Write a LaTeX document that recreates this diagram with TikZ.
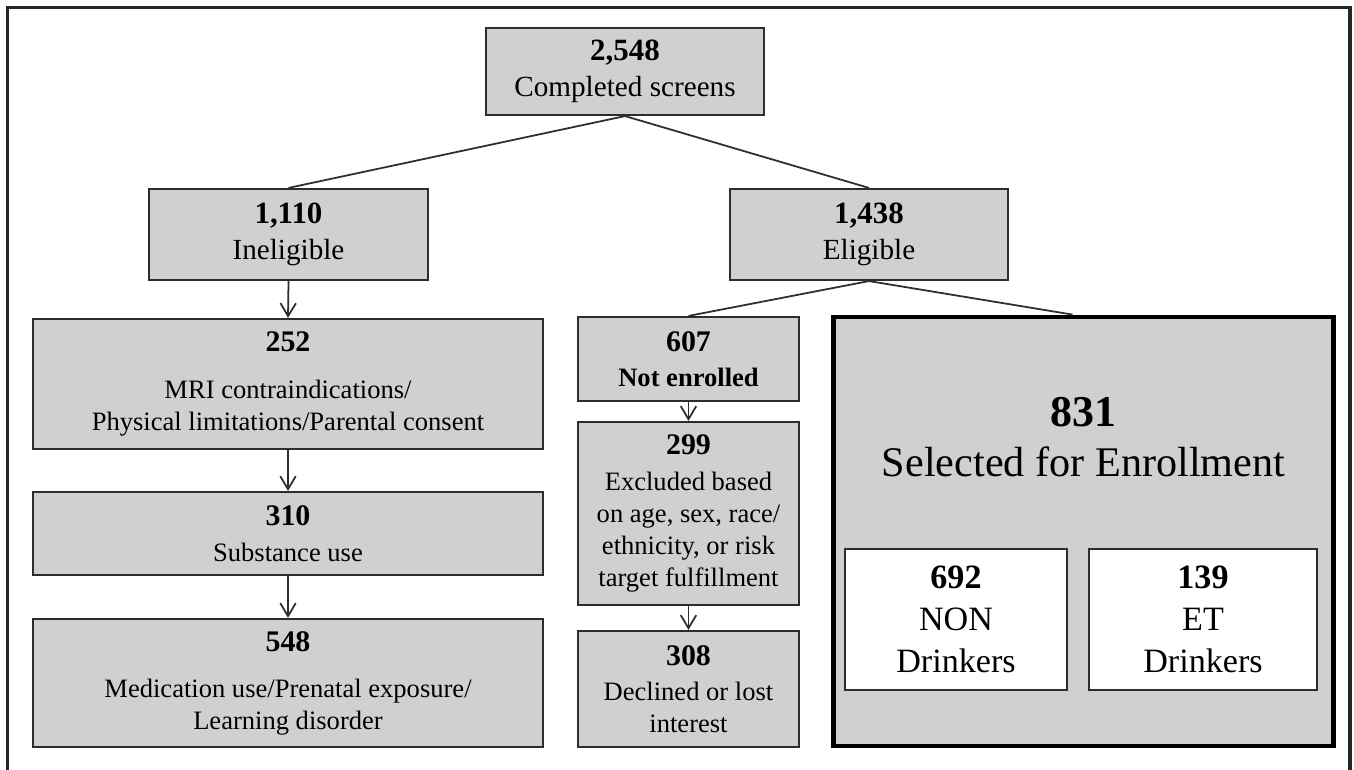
\documentclass[tikz,border=0pt]{standalone}
\usepackage{fontspec}
\setmainfont{Liberation Serif}
\usetikzlibrary{calc,arrows.meta}

\definecolor{boxgray}{RGB}{208,208,208}
\definecolor{linegray}{RGB}{45,45,45}
\newcommand{\bnum}[2][8.5]{{\fontsize{#1}{9}\selectfont\bfseries #2}}

\begin{document}
\begin{tikzpicture}[x=0.01cm,y=-0.01cm,
    box/.style={rectangle, draw=linegray, line width=0.6pt, fill=boxgray, align=center, inner sep=0pt, font=\fontsize{7.55}{9.1}\selectfont},
    toprow/.style={font=\fontsize{8.3}{10.2}\selectfont},
    subbox/.style={box, fill=white, font=\fontsize{9.7}{11.9}\selectfont},
    conn/.style={draw=linegray, line width=0.5pt},
    arr/.style={conn, -{Straight Barb[length=3.7pt,width=4.4pt]}}]
        \useasboundingbox (0,0) rectangle (1354,770);
        \draw[line width=1pt, draw=black!85] (7.5,770) -- (7.5,7.5) -- (1350,7.5) -- (1350,770);

        \node (scr) [box, toprow, minimum width=2.78cm, minimum height=0.87cm] at (625,71.5) {\bnum[8.8]{2,548}\\Completed screens};
        \node (inel) [box, toprow, minimum width=2.79cm, minimum height=0.91cm] at (288.5,234.5) {\bnum[8.8]{1,110}\\Ineligible};
        \node (elig) [box, toprow, minimum width=2.78cm, minimum height=0.91cm] at (869,234.5) {\bnum[8.8]{1,438}\\Eligible};

        \node (r252) [box, minimum width=5.10cm, minimum height=1.30cm] at (288,384) {\bnum{252}\\[4pt]MRI contraindications/\\Physical limitations/Parental consent};
        \node (r310) [box, minimum width=5.10cm, minimum height=0.83cm] at (288,533.5) {\bnum{310}\\[1pt]Substance use};
        \node (r548) [box, minimum width=5.10cm, minimum height=1.28cm] at (288,683) {\bnum{548}\\[4pt]Medication use/Prenatal exposure/\\Learning disorder};

        \node (r607) [box, minimum width=2.21cm, minimum height=0.84cm] at (688.5,359) {\bnum{607}\\[1pt]\textbf{Not enrolled}};
        \node (r299) [box, minimum width=2.21cm, minimum height=1.83cm] at (688.5,513.5) {\bnum{299}\\[1pt]Excluded based\\on age, sex, race/\\ethnicity, or risk\\target fulfillment};
        \node (r308) [box, minimum width=2.21cm, minimum height=1.16cm] at (688.5,689) {\bnum{308}\\[1pt]Declined or lost\\interest};

        \node (r831) [box, draw=black, line width=1.3pt, minimum width=5.00cm, minimum height=4.29cm] at (1083.5,531.5) {};
        \node (sel) [align=center, font=\fontsize{12}{14.2}\selectfont] at (1083.5,437) {\bnum[12.5]{831}\\Selected for Enrollment};
        \node (non) [subbox, minimum width=2.21cm, minimum height=1.41cm] at (956,619.5) {\textbf{692}\\NON\\Drinkers};
        \node (et) [subbox, minimum width=2.27cm, minimum height=1.41cm] at (1203,619.5) {\textbf{139}\\ET\\Drinkers};

        \draw[conn] (scr.south) -- (inel.north);
        \draw[conn] (scr.south) -- (elig.north);
        \draw[conn] (elig.south) -- (r607.north);
        \draw[conn] (elig.south) -- ($(r831.north)+(-11,0)$);

        \draw[arr] (inel.south) -- (r252.north);
        \draw[arr] (r252.south) -- (r310.north);
        \draw[arr] (r310.south) -- (r548.north);
        \draw[arr] (r607.south) -- (r299.north);
        \draw[arr] (r299.south) -- (r308.north);
    \end{tikzpicture}
\end{document}
